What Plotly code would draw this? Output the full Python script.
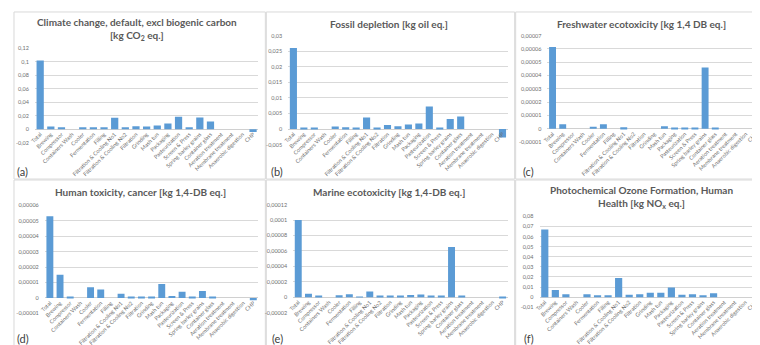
import plotly.graph_objects as go

W, H = 760, 345

# ===== 数据 =====
categories = ["Total", "Brewing", "Compressor", "Containers Wash", "Cooler", "Fermentation",
              "Filling", "Filtration & Cooling No1", "Filtration & Cooling No2", "Filtration",
              "Grinding", "Mash tun", "Packaging", "Pasteurization", "Screen & Press",
              "Spring barley grains", "Container glass", "Aeration treatment",
              "Membrane treatment", "Anaerobic digestion", "CHP"]

climate = [0.102, 0.004, 0.003, 0, 0.003, 0.003, 0.002, 0.017, 0.0025, 0.0045, 0.004,
           0.0055, 0.0085, 0.0185, 0.002, 0.0175, 0.0115, 0, 0, 0, -0.004]
fossil = [0.026, 0.0004, 0.0005, 0, 0.0008, 0.0006, 0.0003, 0.0037, 0.0005, 0.0013, 0.0009,
          0.0015, 0.0018, 0.0072, 0.0005, 0.0032, 0.004, 0, 0, 0, -0.0027]
freshwater = [6.15e-5, 3.5e-6, 0, 0, 1.5e-6, 3.5e-6, 0, 1.2e-6, 0, 0, 0,
              2e-6, 0.5e-6, 0.8e-6, 0.8e-6, 4.6e-5, 0.4e-6, 0, 0, 0, -0.4e-6]
human_cancer = [5.3e-5, 1.5e-5, 0.8e-6, 0, 7e-6, 5.5e-6, 0, 2.8e-6, 0.5e-6, 0.8e-6, 0.8e-6,
                9e-6, 1.3e-6, 4e-6, 0.5e-6, 4.5e-6, 0.8e-6, 0, 0, 0, -1.5e-6]
marine = [1.0e-4, 4.5e-6, 1.5e-6, 0, 2.5e-6, 4e-6, 0.5e-6, 7.5e-6, 1.5e-6, 1.5e-6, 2e-6,
          3e-6, 3.5e-6, 2e-6, 2e-6, 6.5e-5, 1.5e-6, 0, 0, 0, -1.5e-6]
ozone = [0.067, 0.007, 0.003, 0, 0.003, 0.0018, 0.0015, 0.019, 0.0025, 0.0028, 0.0043,
         0.0043, 0.0095, 0.0025, 0.0028, 0.002, 0.0038, 0, 0, 0, -0.007]

ticks_a = [-0.02, 0, 0.02, 0.04, 0.06, 0.08, 0.1, 0.12]
labels_a = ["-0,02", "0", "0,02", "0,04", "0,06", "0,08", "0,1", "0,12"]
ticks_b = [-0.005, 0, 0.005, 0.01, 0.015, 0.02, 0.025, 0.03]
labels_b = ["-0,005", "0", "0,005", "0,01", "0,015", "0,02", "0,025", "0,03"]
ticks_c = [-1e-5, 0, 1e-5, 2e-5, 3e-5, 4e-5, 5e-5, 6e-5, 7e-5]
labels_c = ["-0,00001", "0", "0,00001", "0,00002", "0,00003", "0,00004", "0,00005", "0,00006", "0,00007"]
ticks_d = [-1e-5, 0, 1e-5, 2e-5, 3e-5, 4e-5, 5e-5, 6e-5]
labels_d = ["-0,00001", "0", "0,00001", "0,00002", "0,00003", "0,00004", "0,00005", "0,00006"]
ticks_e = [-2e-5, 0, 2e-5, 4e-5, 6e-5, 8e-5, 1e-4, 1.2e-4]
labels_e = ["-0,00002", "0", "0,00002", "0,00004", "0,00006", "0,00008", "0,0001", "0,00012"]
ticks_f = [-0.01, 0, 0.01, 0.02, 0.03, 0.04, 0.05, 0.06, 0.07, 0.08]
labels_f = ["-0,01", "0", "0,01", "0,02", "0,03", "0,04", "0,05", "0,06", "0,07", "0,08"]

titles = ["Climate change, default, excl biogenic carbon<br>[kg CO<sub>2</sub> eq.]",
          "Fossil depletion [kg oil eq.]",
          "Freshwater ecotoxicity [kg 1,4 DB eq.]",
          "Human toxicity, cancer [kg 1,4-DB eq.]",
          "Marine ecotoxicity [kg 1,4-DB eq.]",
          "Photochemical Ozone Formation, Human<br>Health [kg NO<sub>x</sub> eq.]"]
panel_tags = ["(a)", "(b)", "(c)", "(d)", "(e)", "(f)"]

series = [climate, fossil, freshwater, human_cancer, marine, ozone]
tickvals = [ticks_a, ticks_b, ticks_c, ticks_d, ticks_e, ticks_f]
ticktexts = [labels_a, labels_b, labels_c, labels_d, labels_e, labels_f]

# ===== 布局（像素）=====
plot_x = [(22, 247), (277, 498), (538, 753), (32, 247), (282, 498), (530, 753)]
plot_y = [(38, 134), (25, 136), (25, 133.5), (198, 307.7), (197, 307), (209, 301.5)]
title_pos = [(125, 18), (378, 13), (633, 13), (128, 184), (378, 184), (633, 189)]
tag_pos = [(10, 163), (266, 163), (519, 163), (10, 333), (266, 333), (519, 333)]
panels = [(1, 1, 254, 171), (255, 1, 505, 171), (506, 1, 759, 171),
          (1, 172, 254, 344), (255, 172, 505, 344), (506, 172, 759, 344)]

FONT = "Lato, 'Open Sans', sans-serif"
GREY = "#595959"

fig = go.Figure()
layout = dict(width=W, height=H, margin=dict(l=0, r=0, t=0, b=0),
              paper_bgcolor="white", plot_bgcolor="white", showlegend=False,
              font=dict(family=FONT, color=GREY), bargap=0.32,
              annotations=[], shapes=[])

for i in range(6):
    n = "" if i == 0 else str(i + 1)
    fig.add_trace(go.Bar(x=categories, y=series[i], xaxis="x" + n, yaxis="y" + n,
                         marker=dict(color="#5b9bd5", line=dict(width=0))))
    x0, x1 = plot_x[i]
    yt, yb = plot_y[i]
    ymin, ymax = tickvals[i][0], tickvals[i][-1]
    dom_y = [1 - yb / H, 1 - yt / H]
    zero_pos = dom_y[0] + (0 - ymin) / (ymax - ymin) * (dom_y[1] - dom_y[0])
    layout["xaxis" + n] = dict(domain=[x0 / W, x1 / W], anchor="free", position=zero_pos,
                               type="category", tickangle=-45, showgrid=False, showline=False,
                               ticks="", tickfont=dict(size=5.5, color="#6f6f6f"), ticklabelstandoff=0)
    layout["yaxis" + n] = dict(domain=dom_y, anchor="x" + n, range=[ymin, ymax],
                               tickvals=tickvals[i], ticktext=ticktexts[i],
                               showgrid=True, gridcolor="#d9d9d9", gridwidth=0.8,
                               zeroline=True, zerolinecolor="#d0d0d0", zerolinewidth=1,
                               showline=False, ticks="", tickfont=dict(size=5.5, color="#6f6f6f"),
                               ticklabelstandoff=5)
    tx, ty = title_pos[i]
    layout["annotations"].append(dict(text="<b>" + titles[i] + "</b>", x=tx / W, y=1 - ty / H,
                                      xref="paper", yref="paper", showarrow=False,
                                      xanchor="center", yanchor="middle",
                                      font=dict(size=10, color=GREY, family=FONT)))
    gx, gy = tag_pos[i]
    layout["annotations"].append(dict(text=panel_tags[i], x=gx / W, y=1 - gy / H,
                                      xref="paper", yref="paper", showarrow=False,
                                      xanchor="center", yanchor="middle",
                                      font=dict(size=11, color="#404040", family=FONT)))
    px0, py0, px1, py1 = panels[i]
    layout["shapes"].append(dict(type="rect", xref="paper", yref="paper",
                                 x0=px0 / W, x1=px1 / W, y0=1 - py1 / H, y1=1 - py0 / H,
                                 line=dict(color="#d9d9d9", width=1), layer="below"))

fig.update_layout(**layout)
fig.write_html("out.html")
